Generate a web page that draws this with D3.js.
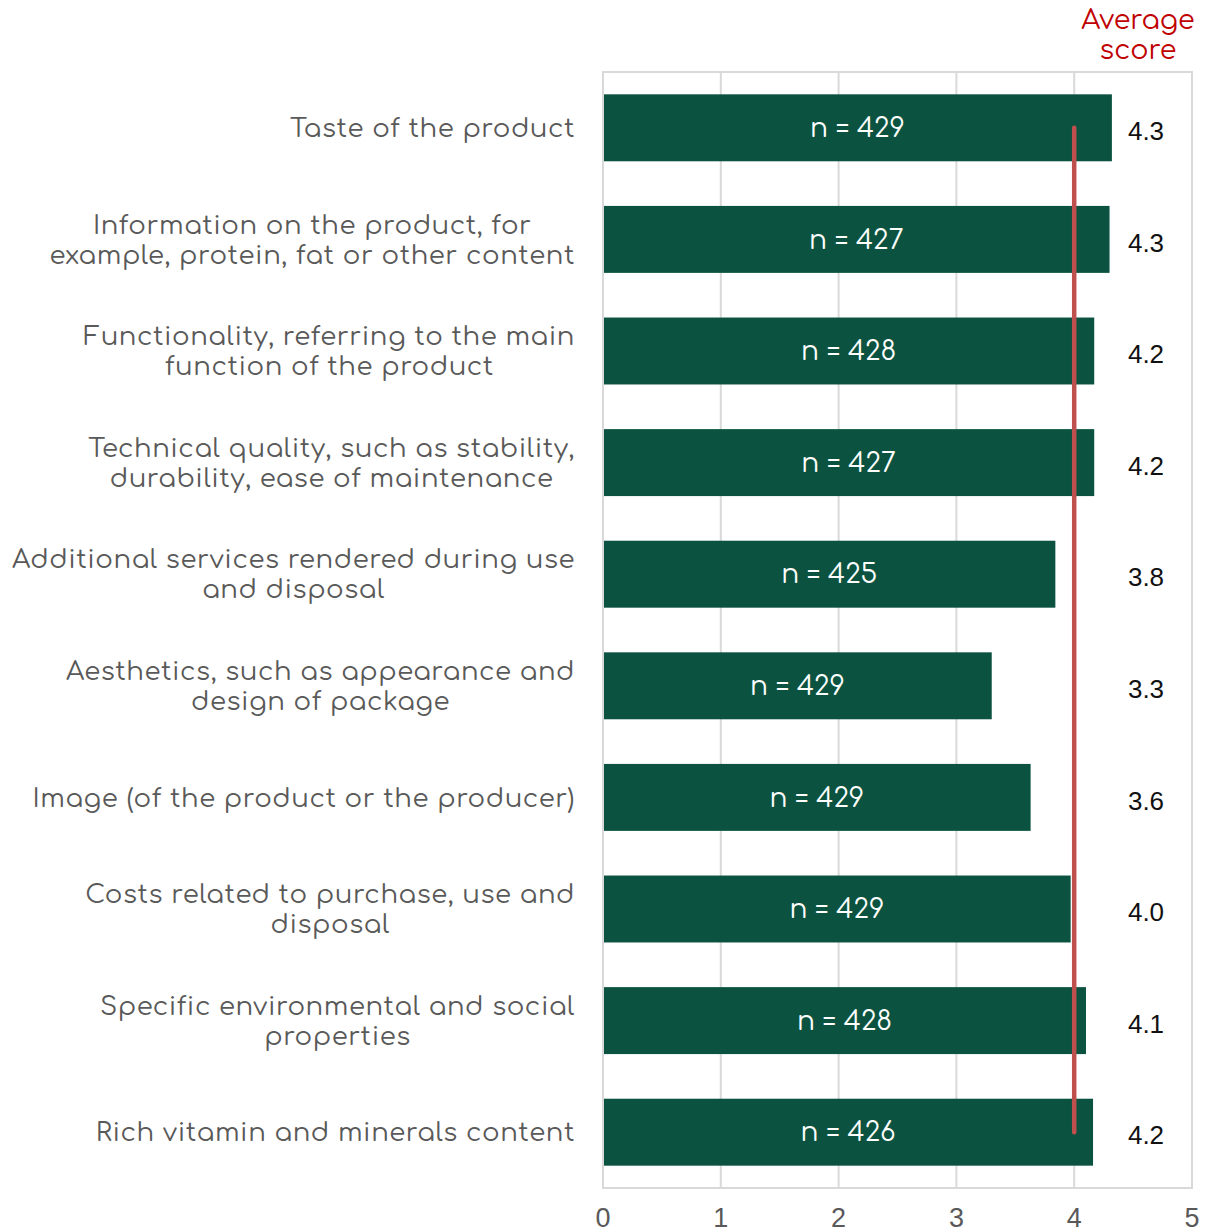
<!DOCTYPE html>
<html>
<head>
<meta charset="utf-8">
<script src="https://cdn.jsdelivr.net/npm/d3@7"></script>
<style>
  html, body { margin: 0; padding: 0; background: #fff; }
  svg { display: block; }
</style>
</head>
<body>
<svg id="chart" width="1211" height="1232"></svg>
<script>
// Product attributes (each entry holds the lines of its wrapped label)
const categories = [
  ["Taste of the product"],
  ["Information on the product, for", "example, protein, fat or other content"],
  ["Functionality, referring to the main", "function of the product"],
  ["Technical quality, such as stability,", "durability, ease of maintenance"],
  ["Additional services rendered during use", "and disposal"],
  ["Aesthetics, such as appearance and", "design of package"],
  ["Image (of the product or the producer)"],
  ["Costs related to purchase, use and", "disposal"],
  ["Specific environmental and social", "properties"],
  ["Rich vitamin and minerals content"]
];
// Mean importance score per attribute
const scores = [4.32, 4.30, 4.17, 4.17, 3.84, 3.30, 3.63, 3.97, 4.10, 4.16];
// Number of respondents per attribute
const respondents = [429, 427, 428, 427, 425, 429, 429, 429, 428, 426];
// Overall average score
const averageScore = [4.0];
// Axis ticks
const xTicks = [0, 1, 2, 3, 4, 5];

const svg = d3.select("#chart");
const plotLeft = 603, plotRight = 1192, plotTop = 72, plotBottom = 1188;
const textFont = "Comfortaa, 'Open Sans', Lato, sans-serif";
const numFont = "'Liberation Sans', Arial, sans-serif";

const x = d3.scaleLinear().domain([0, 5]).range([plotLeft, plotRight]);
const y = d3.scaleBand().domain(d3.range(categories.length))
  .range([plotTop, plotBottom]).paddingInner(0.4).paddingOuter(0.2);

// Gridlines
svg.append("g")
  .selectAll("line").data(xTicks).join("line")
  .attr("x1", d => x(d)).attr("x2", d => x(d))
  .attr("y1", plotTop).attr("y2", plotBottom)
  .attr("stroke", "#d9d9d9").attr("stroke-width", 2);

// Frame
svg.append("rect")
  .attr("x", plotLeft).attr("y", plotTop)
  .attr("width", plotRight - plotLeft).attr("height", plotBottom - plotTop)
  .attr("fill", "none").attr("stroke", "#d9d9d9").attr("stroke-width", 2);

// Bars
svg.append("g")
  .selectAll("rect").data(scores).join("rect")
  .attr("x", x(0) + 1)
  .attr("y", (d, i) => y(i))
  .attr("width", d => x(d) - x(0) - 1)
  .attr("height", y.bandwidth())
  .attr("fill", "#0b5340");

// Respondent counts inside bars
svg.append("g")
  .selectAll("text").data(respondents).join("text")
  .attr("x", (d, i) => (x(0) + x(scores[i])) / 2)
  .attr("y", (d, i) => y(i) + y.bandwidth() / 2)
  .attr("dy", "0.35em")
  .attr("text-anchor", "middle")
  .attr("fill", "#fff")
  .style("font-family", textFont)
  .style("font-size", "26.5px")
  .text(d => `n = ${d}`);

// Average line
svg.append("line")
  .attr("x1", x(averageScore[0])).attr("x2", x(averageScore[0]))
  .attr("y1", y(0) + y.bandwidth() / 2)
  .attr("y2", y(categories.length - 1) + y.bandwidth() / 2)
  .attr("stroke", "#c0504d").attr("stroke-width", 4.5)
  .attr("stroke-linecap", "round");

// Score labels to the right
svg.append("g")
  .selectAll("text").data(scores).join("text")
  .attr("x", 1146)
  .attr("y", (d, i) => y(i) + y.bandwidth() / 2 + 3)
  .attr("dy", "0.35em")
  .attr("text-anchor", "middle")
  .attr("fill", "#111")
  .style("font-family", numFont)
  .style("font-size", "26px")
  .text(d => d3.format(".1f")(d));

// Column heading
const head = svg.append("text")
  .attr("text-anchor", "middle")
  .attr("fill", "#c00000")
  .style("font-family", textFont)
  .style("font-size", "27px");
head.append("tspan").attr("x", 1138).attr("y", 29).text("Average");
head.append("tspan").attr("x", 1138).attr("y", 59).text("score");

// Category labels: lines centred within a right-aligned block
const labelRight = 575, lineH = 30;
categories.forEach((lines, i) => {
  const cy = y(i) + y.bandwidth() / 2;
  const g = svg.append("g");
  const texts = lines.map((ln, k) => g.append("text")
    .attr("y", cy + (k - (lines.length - 1) / 2) * lineH)
    .attr("dy", "0.35em")
    .attr("text-anchor", "middle")
    .attr("fill", "#595959")
    .style("font-family", textFont)
    .style("font-size", "26px")
    .style("letter-spacing", "0.55px")
    .text(ln));
  const w = d3.max(texts, t => t.node().getComputedTextLength());
  texts.forEach(t => t.attr("x", labelRight - w / 2));
});

// X axis tick labels
svg.append("g")
  .selectAll("text").data(xTicks).join("text")
  .attr("x", d => x(d))
  .attr("y", 1218)
  .attr("dy", "0.35em")
  .attr("text-anchor", "middle")
  .attr("fill", "#595959")
  .style("font-family", numFont)
  .style("font-size", "27px")
  .text(d => d);
</script>
</body>
</html>
